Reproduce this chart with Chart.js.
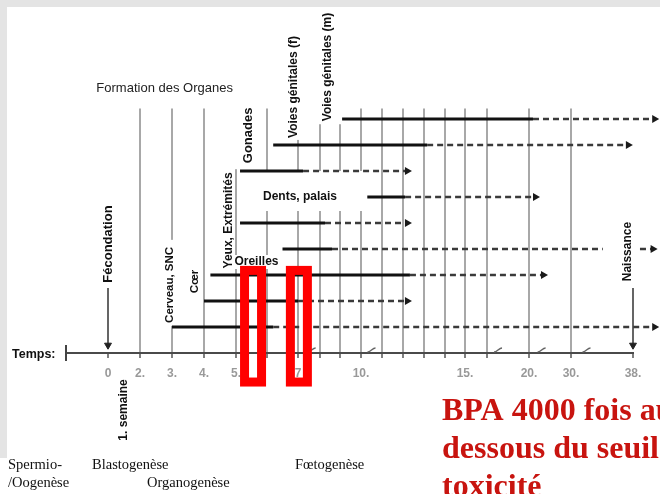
<!DOCTYPE html>
<html lang="fr">
<head>
<meta charset="utf-8">
<title>Périodes critiques du développement</title>
<script src="https://cdn.jsdelivr.net/npm/chart.js@4.4.1/dist/chart.umd.min.js"></script>
<style>
  html, body { margin: 0; padding: 0; background: #fff; }
  canvas { display: block; }
</style>
</head>
<body>
<canvas id="chart" width="660" height="494"></canvas>
<script>
// one row per organ, top to bottom
const organs = ['Voies génitales (m)', 'Voies génitales (f)', 'Gonades', 'Dents, palais', 'Yeux', 'Oreilles', 'Extrémités', 'Cœr', 'Cerveau, SNC'];
// weeks: start of the period, end of the main (solid) part, tip of the dashed arrow
const startWeeks = [9.1, 6.2, 5.13, 10.3, 5.13, 6.5, 4.2, 4.0, 3.0];
const solidEndWeeks = [20.95, 13.15, 7.23, 12.1, 8.25, 8.6, 12.33, 7.0, 6.2];
const arrowEndWeeks = [40.8, 37.4, 12.21, 21.55, 12.21, 40.6, 23.45, 12.21, 40.8];
// dashed part interrupted behind the "Naissance" label
const dashGaps = [null, null, null, null, null, [34.1, 38.9], null, null, null];

// time axis (weeks) - the axis is compressed, so each step has its own width
const axisWeeks = [-2, 0, 2, 3, 4, 5, 6, 7, 8, 9, 10, 11, 12, 13, 14, 15, 16, 20, 30, 38];
const axisSpacing = [42, 32, 32, 32, 32, 31, 31, 22, 20, 21, 21, 21, 21, 21, 20, 22, 42, 42, 62];
const gridWeeks = [2, 3, 4, 5, 6, 7, 8, 9, 10, 11, 12, 13, 14, 15, 16, 20, 30];
const labelledWeeks = [0, 2, 3, 4, 5, 7, 10, 15, 20, 30, 38];
const tickTexts = ['0', '2.', '3.', '4.', '5.', '7', '10.', '15.', '20.', '30.', '38.'];
const breakWeeks = [7.62, 10.5, 17.05, 23.0, 32.0];

const eventNames = ['Fécondation', 'Naissance'];
const eventWeeks = [0, 38];

const highlightWeeks = [5.55, 7.04];

const ink = '#111';
const sans = "'Liberation Sans', Arial, sans-serif";
const serif = "'Liberation Serif', 'Times New Roman', serif";

// linear scale with a piecewise (broken) mapping
class BrokenTimeScale extends Chart.LinearScale {
    static id = 'brokenTime';
    static defaults = Chart.LinearScale.defaults;

    getPixelForValue(value) {
        if (value === null || value === undefined || isNaN(value)) return NaN;
        const total = axisSpacing.reduce((a, b) => a + b, 0);
        let i = 0;
        while (i < axisSpacing.length - 1 && value > axisWeeks[i + 1]) i++;
        let pos = 0;
        for (let k = 0; k < i; k++) pos += axisSpacing[k];
        pos += (value - axisWeeks[i]) / (axisWeeks[i + 1] - axisWeeks[i]) * axisSpacing[i];
        return this.getPixelForDecimal(pos / total);
    }
}
Chart.register(BrokenTimeScale);

// labels placed in chart units (week, row)
const notes = [
    { text: 'Formation des Organes', week: 2.77, row: -0.19, font: '13px ' + sans, color: '#222' },
    { text: 'Voies génitales (f)', week: 6.87, row: -0.23, rot: true, font: 'bold 12px ' + sans, pad: [2, 1, 2, 1] },
    { text: 'Voies génitales (m)', week: 8.4, row: -1.0, rot: true, font: 'bold 12px ' + sans, pad: [2, 7, 3, 3] },
    { text: 'Gonades', week: 5.39, row: 1.63, rot: true, font: 'bold 13px ' + sans, pad: [2, 1, 6, 8] },
    { text: 'Dents, palais', week: 7.09, row: 4.0, font: 'bold 12px ' + sans, pad: [20, 30, 8, 8] },
    { text: 'Yeux, Extrémités', week: 4.78, row: 4.9, rot: true, font: 'bold 12px ' + sans, pad: [1, 0, 1, 1] },
    { text: 'Oreilles', week: 5.66, row: 6.5, font: 'bold 12px ' + sans, pad: [1, 1, 1, 1] },
    { text: 'Cœr', week: 3.72, row: 7.25, rot: true, font: 'bold 11.5px ' + sans, pad: [1, 1, 1, 1] },
    { text: 'Cerveau, SNC', week: 2.94, row: 7.38, rot: true, font: 'bold 11.5px ' + sans, pad: [7, 1, 3, 1] },
    { text: 'Fécondation', week: 0, row: 5.81, rot: true, font: 'bold 13px ' + sans, pad: [2, 2, 2, 2] },
    { text: 'Naissance', week: 37.35, row: 6.1, rot: true, font: 'bold 12px ' + sans, pad: [2, 2, 2, 2] },
    { text: '1. semaine', week: 1, row: 12.19, rot: true, font: 'bold 12px ' + sans },
];

function drawNote(ctx, x, y, n) {
    ctx.save();
    ctx.font = n.font;
    const w = ctx.measureText(n.text).width;
    const h = parseFloat(n.font.match(/([\d.]+)px/)[1]);
    if (n.pad) {
        const [t, r, b, l] = n.pad;
        const bw = n.rot ? h : w;
        const bh = n.rot ? w : h;
        ctx.fillStyle = '#fff';
        ctx.fillRect(x - bw / 2 - l, y - bh / 2 - t, bw + l + r, bh + t + b);
    }
    ctx.translate(x, y);
    if (n.rot) ctx.rotate(-Math.PI / 2);
    ctx.fillStyle = n.color || ink;
    ctx.textAlign = 'center';
    ctx.textBaseline = 'middle';
    ctx.fillText(n.text, 0, 0);
    ctx.restore();
}

const decorations = {
    id: 'decorations',
    beforeDraw(chart) {
        const ctx = chart.ctx;
        ctx.save();
        ctx.fillStyle = '#fff';
        ctx.fillRect(0, 0, chart.width, chart.height);
        ctx.fillStyle = '#e4e4e4';
        ctx.fillRect(0, 0, chart.width, 7);
        ctx.fillRect(0, 0, 7, 458);
        ctx.restore();
    },
    beforeDatasetsDraw(chart) {
        const { ctx, chartArea, scales: { x, y } } = chart;
        const axisY = chartArea.bottom;
        ctx.save();

        // start of the time axis
        const x0 = x.getPixelForValue(axisWeeks[0]);
        ctx.strokeStyle = '#444';
        ctx.lineWidth = 2;
        ctx.beginPath();
        ctx.moveTo(x0, axisY - 8);
        ctx.lineTo(x0, axisY + 8);
        ctx.stroke();

        // axis breaks
        ctx.strokeStyle = '#666';
        ctx.lineWidth = 1.5;
        for (const w of breakWeeks) {
            const bx = x.getPixelForValue(w);
            ctx.beginPath();
            ctx.moveTo(bx - 4, axisY - 1);
            ctx.bezierCurveTo(bx - 1, axisY - 1, bx + 1, axisY - 5, bx + 4, axisY - 5);
            ctx.stroke();
        }

        ctx.font = 'bold 12.5px ' + sans;
        ctx.fillStyle = ink;
        ctx.textAlign = 'left';
        ctx.textBaseline = 'middle';
        ctx.fillText('Temps:', 12, axisY + 2);
        ctx.restore();

        for (const n of notes) {
            drawNote(ctx, x.getPixelForValue(n.week), y.getPixelForValue(n.row), n);
        }
    },
    afterDatasetsDraw(chart) {
        // arrow heads at the end of each organ row (may sit right of the plot area)
        const ctx = chart.ctx;
        ctx.save();
        ctx.fillStyle = '#1a1a1a';
        organs.forEach((_, i) => {
            const pts = chart.getDatasetMeta(i).data;
            const p = pts[pts.length - 1];
            ctx.beginPath();
            ctx.moveTo(p.x + 4.5, p.y);
            ctx.lineTo(p.x - 2.5, p.y - 4);
            ctx.lineTo(p.x - 2.5, p.y + 4);
            ctx.closePath();
            ctx.fill();
        });
        ctx.restore();
    },
    afterDraw(chart) {
        const { ctx, scales: { x, y } } = chart;
        ctx.save();

        // highlighted weeks
        ctx.strokeStyle = '#ff0000';
        ctx.lineWidth = 9;
        const top = y.getPixelForValue(6.65);
        const bottom = y.getPixelForValue(11.29);
        for (const w of highlightWeeks) {
            const cx = x.getPixelForValue(w);
            ctx.strokeRect(cx - 8.5, top + 4.5, 17, bottom - top - 9);
        }

        // developmental stages
        ctx.font = '14.5px ' + serif;
        ctx.fillStyle = ink;
        ctx.textAlign = 'left';
        ctx.textBaseline = 'middle';
        ctx.fillText('Spermio-', 8, 465);
        ctx.fillText('/Oogenèse', 8, 483);
        ctx.fillText('Blastogenèse', 92, 465);
        ctx.fillText('Organogenèse', 147, 483);
        ctx.fillText('Fœtogenèse', 295, 465);

        ctx.font = 'bold 32px ' + serif;
        ctx.fillStyle = '#c8140f';
        ctx.textBaseline = 'alphabetic';
        ctx.fillText('BPA 4000 fois au-', 442, 420);
        ctx.fillText('dessous du seuil de', 442, 457.7);
        ctx.fillText('toxicité', 442, 496);
        ctx.restore();
    },
};

const rowDatasets = organs.map((name, i) => {
    const row = i + 1;
    const data = [{ x: startWeeks[i], y: row }, { x: solidEndWeeks[i], y: row }];
    const gap = dashGaps[i];
    if (gap) {
        data.push({ x: gap[0], y: row }, { x: (gap[0] + gap[1]) / 2, y: null }, { x: gap[1], y: row });
    }
    data.push({ x: arrowEndWeeks[i], y: row });
    return {
        label: name,
        data,
        borderColor: ink,
        borderWidth: 3,
        spanGaps: false,
        clip: false,
        pointRadius: 0,
        segment: {
            borderDash: ctx => ctx.p0DataIndex > 0 ? [6, 4] : undefined,
            borderWidth: ctx => ctx.p0DataIndex > 0 ? 2.3 : undefined,
            borderColor: ctx => ctx.p0DataIndex > 0 ? '#3a3a3a' : undefined,
        },
    };
});

const eventDatasets = eventNames.map((name, i) => ({
    label: name,
    data: [{ x: eventWeeks[i], y: 7.5 }, { x: eventWeeks[i], y: 9.7 }],
    borderColor: '#333',
    borderWidth: 1.5,
    clip: false,
    pointStyle: 'triangle',
    pointRotation: 180,
    pointRadius: ctx => ctx.dataIndex === 1 ? 4 : 0,
    pointBackgroundColor: '#222',
    pointBorderColor: '#222',
    pointBorderWidth: 1,
}));

const canvas = document.querySelector('#chart');

new Chart(canvas, {
    type: 'line',
    data: { datasets: [...rowDatasets, ...eventDatasets] },
    options: {
        responsive: false,
        animation: false,
        events: [],
        layout: { padding: { left: 66, right: 27, top: 108.6, bottom: 111 } },
        plugins: {
            legend: { display: false },
            tooltip: { enabled: false },
        },
        scales: {
            x: {
                type: 'brokenTime',
                min: axisWeeks[0],
                afterBuildTicks: scale => {
                    scale.ticks = axisWeeks.map(value => ({ value }));
                },
                afterFit: scale => {
                    scale.height = 30;
                },
                grid: {
                    color: ctx => gridWeeks.includes(ctx.tick && ctx.tick.value) ? '#a8a8a8' : 'rgba(0,0,0,0)',
                    lineWidth: 2,
                    tickLength: 5,
                    tickColor: '#555',
                    tickWidth: 1.5,
                },
                border: { color: '#4a4a4a', width: 2 },
                ticks: {
                    autoSkip: false,
                    maxRotation: 0,
                    padding: 8,
                    color: '#999',
                    font: { family: sans, size: 12, weight: 'bold' },
                    callback: value => {
                        const k = labelledWeeks.indexOf(value);
                        return k >= 0 ? tickTexts[k] : '';
                    },
                },
            },
            y: {
                type: 'linear',
                display: false,
                min: 0.6,
                max: 10,
                reverse: true,
            },
        },
    },
    plugins: [decorations],
});
</script>
</body>
</html>
